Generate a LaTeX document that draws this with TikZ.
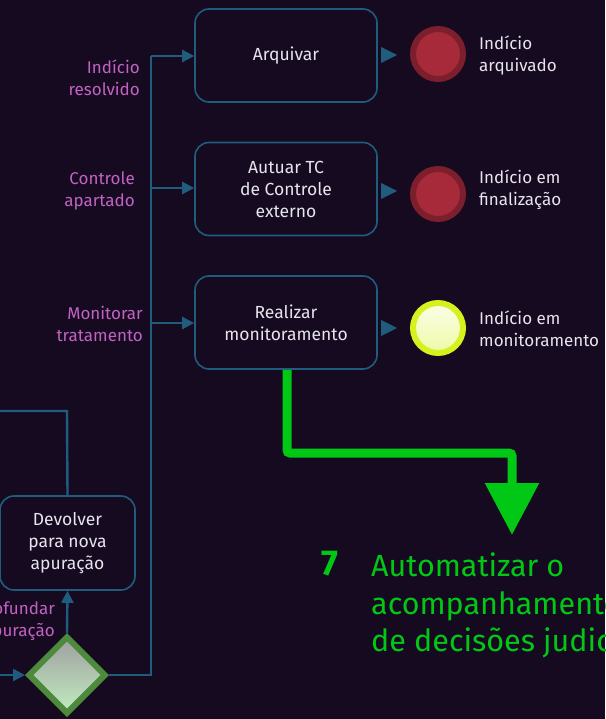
\documentclass[tikz,border=0pt]{standalone}
\usepackage{fontspec}
\setmainfont{Fira Sans}
\usetikzlibrary{arrows.meta,shapes.geometric}
\definecolor{bgc}{HTML}{160A21}
\definecolor{flowc}{HTML}{1F5C7E}
\definecolor{labc}{HTML}{C262C2}
\definecolor{txtc}{HTML}{E6E4EC}
\definecolor{endring}{HTML}{7C1E2B}
\definecolor{endfill}{HTML}{A72A3B}
\definecolor{ylring}{HTML}{D6F21E}
\definecolor{gwring}{HTML}{4E8A3C}
\definecolor{bigg}{HTML}{00C814}
\tikzset{
  task/.style={draw=flowc, line width=1.6pt, rounded corners=14pt, fill=bgc,
    minimum width=182pt, minimum height=93pt, align=center, text=txtc,
    font=\fontsize{17.5}{22}\selectfont},
  flow/.style={draw=flowc, line width=2.4pt, -{Triangle[length=12pt,width=12pt]}},
  flowline/.style={draw=flowc, line width=2.4pt},
  lab/.style={text=labc, align=right, anchor=east, font=\fontsize{17}{22}\selectfont, inner sep=0pt},
  evtxt/.style={text=txtc, align=left, anchor=west, font=\fontsize{17}{22}\selectfont, inner sep=0pt},
  endev/.style={circle, draw=endring, fill=endfill, line width=6pt, minimum size=50pt, inner sep=0pt},
  ylev/.style={circle, draw=ylring, line width=6pt, minimum size=50pt, inner sep=0pt,
    top color=white!90!ylring, bottom color=white!60!ylring},
  gw/.style={diamond, draw=gwring, line width=6pt, minimum width=78pt, minimum height=78pt,
    inner sep=0pt, top color=gray!75, bottom color=green!20!white!85!gray},
  tip/.style={fill=flowc},
}
\begin{document}
\begin{tikzpicture}[x=1pt,y=-1pt]
\fill[bgc] (0,0) rectangle (605,719);
\useasboundingbox (0,0) rectangle (605,719);
\clip (0,0) rectangle (605,719);

% tasks
\node[task] (arq) at (286,55.5) {Arquivar};
\node[task] (aut) at (286,189) {Autuar TC\\de Controle\\externo};
\node[task] (rea) at (286,322.5) {Realizar\\monitoramento};
\node[task, minimum width=135pt, minimum height=94pt] (dev) at (67.5,543) {Devolver\\para nova\\apuração};

% gateway
\node[gw] (gw) at (67,675) {};

% end events
\node[endev] (e1) at (438,54) {};
\node[endev] (e2) at (438,194) {};
\node[ylev] (e3) at (438,328) {};

% event texts
\node[evtxt] (t1) at (479,56) {Indício\\arquivado};
\node[evtxt] (t2) at (479,190) {Indício em\\finalização};
\node[evtxt] (t3) at (479,329) {Indício em\\monitoramento};

% flow labels
\node[lab] (l1) at (140,78) {Indício\\resolvido};
\node[lab] (l2) at (135,191) {Controle\\apartado};
\node[lab] (l3) at (143,324) {Monitorar\\tratamento};
\node[lab] (l4) at (55,621) {Aprofundar\\apuração};

% branching trunk
\coordinate (j0) at (151,675);
\coordinate (j1) at (151,56);
\coordinate (j2) at (151,188);
\coordinate (j3) at (151,323);
\draw[flowline] (gw.east) -- (j0) -- (j1);
\draw[flow] (j1) -- (j1 -| arq.west);
\draw[flow] (j2) -- (j2 -| aut.west);
\draw[flow] (j3) -- (j3 -| rea.west);

% gateway to devolver
\draw[flow] (gw.north) -- (dev.south);
% incoming to gateway
\coordinate (in0) at (-5,675);
\draw[flow] (in0) -- (gw.west);
% devolver back loop
\coordinate (lp1) at (67,411);
\coordinate (lp2) at (-5,411);
\draw[flowline] (dev.north) -- (lp1) -- (lp2);

% small tips to end events
\foreach \n/\y in {e1/55,e2/191,e3/328}{
  \fill[tip] (381,\y-8) -- (397,\y) -- (381,\y+8) -- cycle;
}

% big green arrow
\coordinate (g1) at (287,453);
\coordinate (g2) at (512,453);
\coordinate (g3) at (512,535);
\draw[draw=bigg, line width=9pt, rounded corners=3pt, -{Triangle[length=52pt,width=52pt]}]
  (rea.south -| g1) -- (g1) -- (g2) -- (g3);

% step text
\node[text=bigg, font=\fontsize{36}{40}\bfseries\selectfont, anchor=base, inner sep=0pt] (num) at (330,575) {7};
\node[text=bigg, font=\fontsize{30.5}{37.5}\selectfont, align=left, anchor=north west, inner sep=0pt] (big) at (371,553)
  {Automatizar o\\acompanhamento\\de decisões judiciais};
\end{tikzpicture}
\end{document}
